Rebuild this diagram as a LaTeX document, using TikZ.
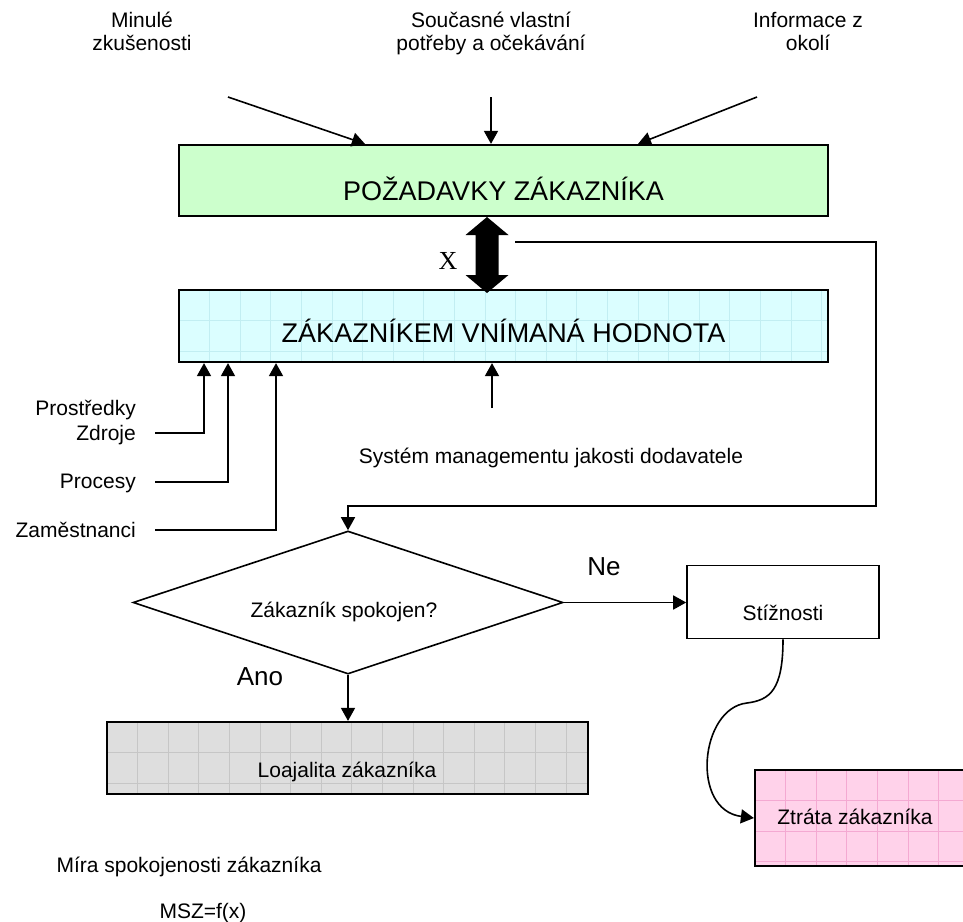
\documentclass[tikz,border=0pt]{standalone}
\usepackage{fontspec}
\setmainfont{Liberation Sans}
\newfontfamily\serifx{Liberation Serif}
\usetikzlibrary{arrows.meta,shapes.geometric}
\definecolor{reqgreen}{HTML}{CCFFCC}
\definecolor{valblue}{HTML}{DBFEFF}
\definecolor{valgrid}{HTML}{C2EEF2}
\definecolor{loygray}{HTML}{DEDEDE}
\definecolor{loygrid}{HTML}{C6C6C6}
\definecolor{losspink}{HTML}{FFD2EA}
\definecolor{lossgrid}{HTML}{F4A9D2}
\begin{document}
\begin{tikzpicture}[x=1pt,y=-1pt,
  box/.style={draw=black, line width=2.2pt, inner sep=0pt},
  conn/.style={line width=1.6pt},
  arr/.style={conn, -{Triangle[length=13pt,width=14pt]}},
  txt/.style={font=\fontsize{21}{24}\selectfont, inner sep=0pt, anchor=base},
  big/.style={font=\fontsize{27}{30}\selectfont, inner sep=0pt, anchor=base},
  yn/.style={font=\fontsize{26}{28}\selectfont, inner sep=0pt, anchor=base},
  gridded/.style={path picture={
    \foreach \k in {1,...,31} {
      \draw[#1, line width=0.7pt] ([xshift=\k*30.6pt]path picture bounding box.north west) -- ([xshift=\k*30.6pt]path picture bounding box.south west);
    }
    \foreach \k in {1,2,3} {
      \draw[#1, line width=0.7pt] ([yshift=-\k*30.6pt]path picture bounding box.north west) -- ([yshift=-\k*30.6pt]path picture bounding box.north east);
    }
  }}
]
\useasboundingbox (0,0) rectangle (963,921);

% top labels
\node[txt] (m1) at (142,27) {Minulé};
\node[txt] (m2) at (142,50) {zkušenosti};
\node[txt] (s1) at (491,27) {Současné vlastní};
\node[txt] (s2) at (491,50) {potřeby a očekávání};
\node[txt] (i1) at (808,27) {Informace z};
\node[txt] (i2) at (808,50) {okolí};

% main boxes
\node[box, fill=reqgreen, minimum width=649pt, minimum height=71pt] (req) at (503.5,180.5) {};
\node[big] (reqt) at (503.5,200) {POŽADAVKY ZÁKAZNÍKA};
\node[box, fill=valblue, gridded=valgrid, minimum width=649pt, minimum height=72pt] (val) at (503.5,326) {};
\node[big] (valt) at (503.5,342) {ZÁKAZNÍKEM VNÍMANÁ HODNOTA};

% top arrows
\coordinate (a1) at (228,97);
\coordinate (a2) at (491,97);
\coordinate (a3) at (757,97);
\draw[arr] (a1) -- (365,0 |- req.north);
\draw[arr] (a2) -- (491,0 |- req.north);
\draw[arr] (a3) -- (638,0 |- req.north);

% double arrow and X
\fill (487,217) -- (508.5,235) -- (498.5,235) -- (498.5,275) -- (508.5,275) -- (487,293)
  -- (465.5,275) -- (475.5,275) -- (475.5,235) -- (465.5,235) -- cycle;
\node[font=\serifx\fontsize{26}{28}\selectfont, inner sep=0pt, anchor=base] (xl) at (448,269) {X};

% diamond
\node[diamond, draw, line width=1.6pt, minimum width=430pt, minimum height=143pt, inner sep=0pt, aspect=3] (dia) at (348,602.5) {};
\node[txt] (diat) at (344,617) {Zákazník spokojen?};

% feedback loop
\coordinate (fb0) at (515,242);
\draw[arr] (fb0) -- (876,242) -- (876,506) -- (348,506) -- (dia.north);

% inputs to perceived value
\node[txt, anchor=base east] (pr1) at (136,415) {Prostředky};
\node[txt, anchor=base east] (pr2) at (136,440) {Zdroje};
\node[txt, anchor=base east] (pc) at (136,488) {Procesy};
\node[txt, anchor=base east] (zm) at (136,537) {Zaměstnanci};
\coordinate (l1) at (155,433);
\coordinate (l2) at (155,482);
\coordinate (l3) at (155,530);
\draw[arr] (l1) -- (204,433) -- (204,0 |- val.south);
\draw[arr] (l2) -- (228,482) -- (228,0 |- val.south);
\draw[arr] (l3) -- (276,530) -- (276,0 |- val.south);
\coordinate (sm) at (492,408);
\draw[arr] (sm) -- (492,0 |- val.south);
\node[txt] (smt) at (551,463) {Systém managementu jakosti dodavatele};

% complaints
\node[box, line width=1.6pt, fill=white, minimum width=192pt, minimum height=73pt] (st) at (783,602) {};
\node[txt] (stt) at (783,620) {Stížnosti};
\draw[arr] (dia.east) -- (dia.east -| st.west);
\node[yn] (ne) at (604,575) {Ne};
\node[yn] (ano) at (260,685) {Ano};

% loyalty
\node[box, fill=loygray, gridded=loygrid, minimum width=481pt, minimum height=72pt] (loy) at (347.5,758) {};
\node[txt] (loyt) at (347,777) {Loajalita zákazníka};
\draw[arr] (dia.south) -- (dia.south |- loy.north);

% loss (runs past the right edge of the picture)
\node[box, fill=losspink, gridded=lossgrid, minimum width=214pt, minimum height=96pt] (loss) at (862,818) {};
\node[txt] (losst) at (855,824) {Ztráta zákazníka};
\draw[arr] (st.south) .. controls (783,690) and (770,700) .. (747,703)
  .. controls (700,708) and (690,810) .. (loss.west);

% bottom texts
\node[txt] (mira) at (189,872) {Míra spokojenosti zákazníka};
\node[txt] (msz) at (203,918) {MSZ=f(x)};
\end{tikzpicture}
\end{document}
